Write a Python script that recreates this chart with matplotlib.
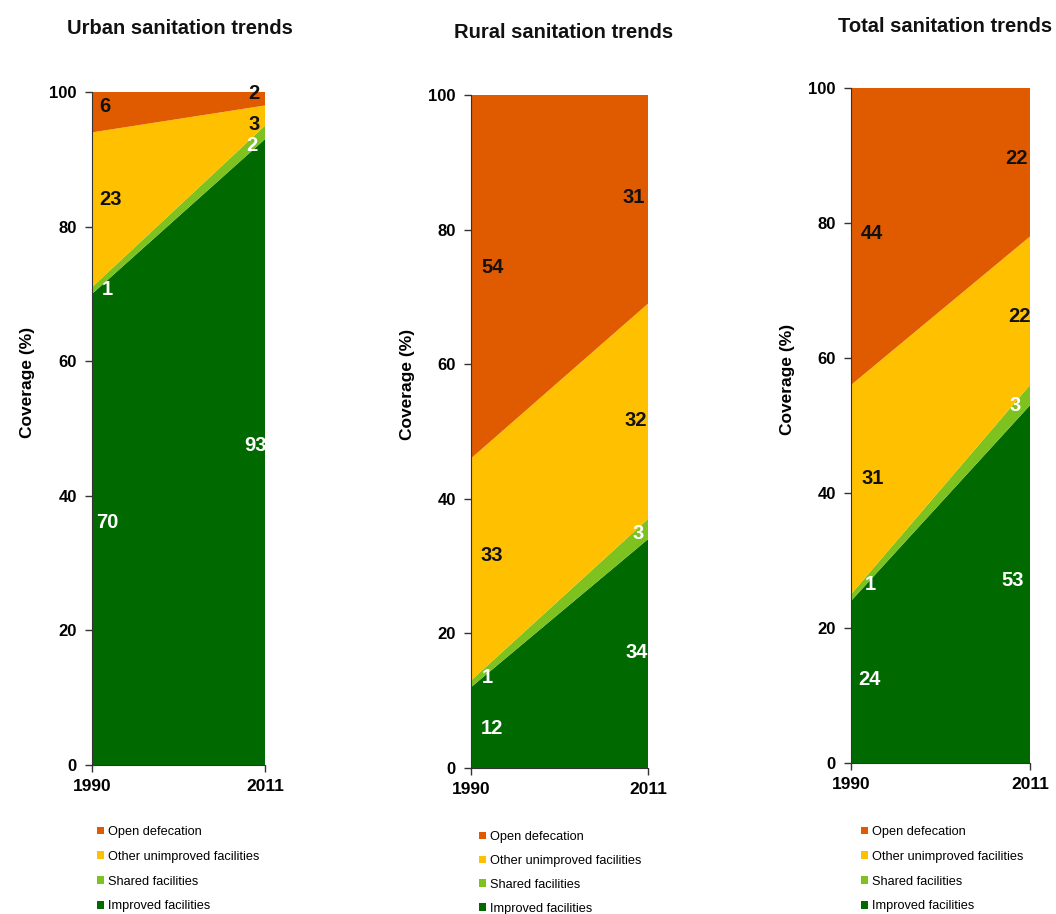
import matplotlib
matplotlib.use("Agg")
import matplotlib.pyplot as plt
from matplotlib.patches import Patch

plt.rcParams['font.family'] = ['Liberation Sans', 'DejaVu Sans']

# data
years = [1990, 2011]
layers = ['Improved facilities', 'Shared facilities',
          'Other unimproved facilities', 'Open defecation']
colors = ['#006a00', '#7dc21e', '#ffc000', '#e05a00']
label_colors = ['white', 'white', '#111111', '#111111']

titles = ['Urban sanitation trends', 'Rural sanitation trends', 'Total sanitation trends']

urban_1990 = [70, 1, 23, 6]
urban_2011 = [93, 2, 3, 2]
rural_1990 = [12, 1, 33, 54]
rural_2011 = [34, 3, 32, 31]
total_1990 = [24, 1, 31, 44]
total_2011 = [53, 3, 22, 22]

panels = [(urban_1990, urban_2011), (rural_1990, rural_2011), (total_1990, total_2011)]

# layout (figure pixels)
W, H = 1056, 914
axes_px = [(92, 92, 265, 765), (471, 95, 648, 768), (851, 88, 1030, 763)]
title_px = [(180, 28), (564, 32), (945, 27)]
ylabel_pos = [(-0.329, 0.569), (-0.316, 0.57), (-0.313, 0.568)]
legend_px = [(97, 826), (479, 831), (861, 826)]
legend_spacing = [1.0, 0.93, 1.0]

# value label positions: (x, y) in data units, order = layers
lab_1990 = [
    [(1991.9, 36.1), (1991.9, 70.7), (1992.2, 84.0), (1991.6, 97.8)],
    [(1992.5, 5.9), (1991.9, 13.5), (1992.5, 31.6), (1992.6, 74.3)],
    [(1992.2, 12.3), (1992.3, 26.5), (1992.5, 42.1), (1992.5, 78.5)],
]
lab_2011 = [
    [(2009.8, 47.5), (2009.4, 92.0), (2009.7, 95.2), (2009.7, 99.8)],
    [(2009.6, 17.2), (2009.8, 34.9), (2009.6, 51.7), (2009.3, 84.7)],
    [(2009.0, 27.1), (2009.3, 53.0), (2009.8, 66.2), (2009.4, 89.6)],
]

fig = plt.figure(figsize=(W / 100, H / 100), dpi=100)

for i, (v1990, v2011) in enumerate(panels):
    l, t, r, b = axes_px[i]
    ax = fig.add_axes([l / W, 1 - b / H, (r - l) / W, (b - t) / H])
    series = [[a, c] for a, c in zip(v1990, v2011)]
    ax.stackplot(years, series, colors=colors, linewidth=0)
    ax.set_xlim(1990, 2011)
    ax.set_ylim(0, 100)
    ax.set_xticks(years)
    ax.set_yticks([0, 20, 40, 60, 80, 100])
    for lbl in ax.get_xticklabels() + ax.get_yticklabels():
        lbl.set_fontweight('bold')
    ax.tick_params(axis='y', length=5, width=1, pad=6, labelsize=12, color='#333333')
    ax.tick_params(axis='x', length=5, width=1, pad=5, labelsize=12.5, color='#333333')
    ax.spines['top'].set_visible(False)
    ax.spines['right'].set_visible(False)
    ax.spines['left'].set_color('#333333')
    ax.spines['bottom'].set_color('#333333')
    ax.set_ylabel('Coverage (%)', fontsize=12.5, fontweight='bold')
    ax.yaxis.set_label_coords(*ylabel_pos[i])

    for k in range(4):
        x, y = lab_1990[i][k]
        ax.text(x, y, str(v1990[k]), ha='center', va='center', fontsize=14.5,
                fontweight='bold', color=label_colors[k])
        x, y = lab_2011[i][k]
        ax.text(x, y, str(v2011[k]), ha='center', va='center', fontsize=14.5,
                fontweight='bold', color=label_colors[k], clip_on=False)

    fig.text(title_px[i][0] / W, 1 - title_px[i][1] / H, titles[i], ha='center',
             va='center', fontsize=14.5, fontweight='bold', color='#111111')

    handles = [Patch(facecolor=colors[k], edgecolor='none', label=layers[k])
               for k in range(3, -1, -1)]
    fig.legend(handles=handles, loc='upper left',
               bbox_to_anchor=(legend_px[i][0] / W, 1 - legend_px[i][1] / H),
               frameon=False, fontsize=9.2, handlelength=0.55, handleheight=0.55,
               handletextpad=0.3, labelspacing=legend_spacing[i],
               borderpad=0, borderaxespad=0)

fig.savefig('out.png', dpi=100, facecolor='white')
